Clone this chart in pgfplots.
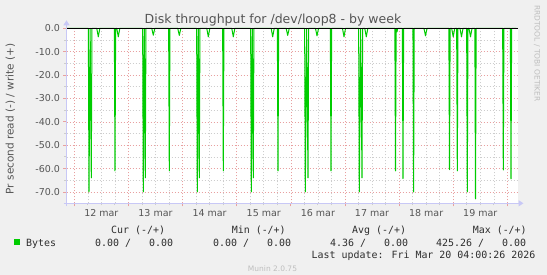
\documentclass[border=0pt]{standalone}
\usepackage{fontspec}
\setmainfont{DejaVu Sans}
\newfontfamily\monofont{DejaVu Sans Mono}
\usepackage{pgfplots}
\pgfplotsset{compat=1.18}
\usetikzlibrary{arrows.meta}
\definecolor{bgc}{RGB}{240,240,240}
\definecolor{mgreen}{RGB}{0,204,0}
\definecolor{mgridc}{RGB}{232,160,160}
\definecolor{gridc}{RGB}{205,205,205}
\definecolor{axc}{RGB}{200,200,246}
\definecolor{txt}{RGB}{85,85,85}
\definecolor{ltxt}{RGB}{45,45,45}
\definecolor{faint}{RGB}{190,190,190}

\begin{document}
\begin{tikzpicture}[x=1pt,y=1pt]
\fill[bgc] (0,0) rectangle (547,275);
\begin{axis}[name=ax, at={(66.5pt,71.7pt)}, anchor=south west,
  scale only axis, width=451.5pt, height=174.9pt,
  xmin=-0.144, xmax=8.197, ymin=-74.87, ymax=0,
  axis background/.style={fill=white},
  axis line style={draw=none},
  tick pos=left, tick align=outside,
  xtick={0,1,2,3,4,5,6,7,8}, minor x tick num=3,
  x tick label as interval,
  xticklabels={12 mar,13 mar,14 mar,15 mar,16 mar,17 mar,18 mar,19 mar},
  ytick={-70,-60,-50,-40,-30,-20,-10,0},
  minor y tick num=1,
  yticklabels={-70.0,-60.0,-50.0,-40.0,-30.0,-20.0,-10.0,0.0},
  grid=both,
  major grid style={mgridc, line width=0.6pt, dash pattern=on 1pt off 2pt},
  minor grid style={gridc, line width=0.6pt, dash pattern=on 1pt off 2pt},
  major tick length=3pt, minor tick length=2pt,
  major tick style={mgridc, line width=0.8pt},
  minor tick style={gridc, line width=0.8pt},
  tick label style={font=\fontsize{9.5}{11}\selectfont, text=txt},
  clip=false,
]
\addplot[mgreen, line width=1pt, line join=round] coordinates {
(-0.144,0)
(0.2596,0)(0.2716,-70)(0.2929,0)(0.3141,-64)(0.3261,0)
(0.4154,0)(0.4434,-3.6)(0.4714,0)
(0.7399,0)(0.7519,-61)(0.7639,0)
(0.7849,0)(0.8129,-3.6)(0.8409,0)
(1.2627,0)(1.2747,-70)(1.2932,0)(1.3117,-64)(1.3237,0)
(1.4314,0)(1.4594,-2.9)(1.4874,0)
(1.7430,0)(1.7550,-61)(1.7670,0)
(1.9118,0)(1.9398,-3)(1.9678,0)
(2.2603,0)(2.2723,-70)(2.2908,0)(2.3092,-64)(2.3212,0)
(2.4475,0)(2.4755,-3.6)(2.5035,0)
(2.7406,0)(2.7526,-61)(2.7646,0)
(2.9094,0)(2.9374,-3.6)(2.9654,0)
(3.2579,0)(3.2699,-70)(3.2884,0)(3.3068,-64)(3.3188,0)
(3.6372,0)(3.6652,-3.6)(3.6932,0)
(3.7512,0)(3.7632,-61)(3.7752,0)
(3.9144,0)(3.9424,-3)(3.9704,0)
(4.2555,0)(4.2675,-70)(4.2925,0)(4.3174,-64)(4.3294,0)
(4.4557,0)(4.4837,-3.2)(4.5117,0)
(4.7303,0)(4.7423,-61)(4.7543,0)
(4.9545,0)(4.9825,-3.6)(5.0105,0)
(5.2531,0)(5.2651,-70)(5.2901,0)(5.3150,-64)(5.3270,0)
(5.3664,0)(5.3944,-3.6)(5.4224,0)
(5.9219,0)(5.9339,-61)(5.9459,0)
(5.9500,0)(5.9616,-1.5)(5.9740,0)
(6.0604,0)(6.0724,-64.3)(6.0844,0)
(6.2563,0)(6.2683,-70)(6.2803,0)
(6.4601,0)(6.4881,-3.2)(6.5161,0)
(6.9195,0)(6.9315,-60.5)(6.9435,0)
(6.9718,0)(6.9998,-3.6)(7.0278,0)
(7.0636,0)(7.0756,-61)(7.0876,0)
(7.1251,0)(7.1531,-3.6)(7.1811,0)
(7.2483,0)(7.2603,-70)(7.2723,0)
(7.2914,0)(7.3194,-3.6)(7.3474,0)
(7.3998,0)(7.4118,-73)(7.4238,0)
(7.9134,0)(7.9254,-60.6)(7.9374,0)
(8.0556,0)(8.0676,-64.4)(8.0796,0)
(8.167,0)
};
\end{axis}
\draw[black, line width=0.9pt] (ax.north west) -- (ax.north east);
\draw[axc, line width=1.3pt, -{Triangle[length=5pt,width=6pt]}] ([xshift=-3pt]ax.south west) -- ++(460pt,0);
\draw[axc, line width=1.3pt, -{Triangle[length=5pt,width=6pt]}] ([yshift=-3pt]ax.south west) -- ++(0,186pt);
\node[anchor=base, font=\fontsize{12.5}{14}\selectfont, text=txt, inner sep=0pt] at (273,251.7) {Disk throughput for /dev/loop8 - by week};
\node[rotate=90, anchor=center, font=\fontsize{10.5}{12}\selectfont, text=txt, inner sep=0pt] at (10.3,156) {Pr second read (-) / write (+)};
\node[rotate=-90, anchor=center, font=\fontsize{7.5}{9}\selectfont, text=faint, inner sep=0pt] at (537,221.5) {RRDTOOL / TOBI OETIKER};
\begin{scope}[every node/.style={font=\monofont\fontsize{9.95}{12}\selectfont, text=ltxt, inner sep=0pt}]
\node[anchor=base west] at (111,41.6) {Cur (-/+)};
\node[anchor=base west] at (231.6,41.6) {Min (-/+)};
\node[anchor=base west] at (352,41.6) {Avg (-/+)};
\node[anchor=base west] at (472.6,41.6) {Max (-/+)};
\node[anchor=base west] at (26,28.7) {Bytes};
\node[anchor=base west] at (95,28.7) {0.00 /\ \ \ 0.00};
\node[anchor=base west] at (213,28.7) {0.00 /\ \ \ 0.00};
\node[anchor=base west] at (330,28.7) {4.36 /\ \ \ 0.00};
\node[anchor=base west] at (436,28.7) {425.26 /\ \ \ 0.00};
\node[anchor=base west] at (311.5,16.5) {Last update: Fri Mar 20 04:00:26 2026};
\end{scope}
\fill[mgreen] (14,30) rectangle (19.5,35.5);
\node[anchor=base, font=\fontsize{7.5}{9}\selectfont, text=faint, inner sep=0pt] at (272.5,3.6) {Munin 2.0.75};
\pgfresetboundingbox
\path[use as bounding box] (0,0) rectangle (547,275);
\end{tikzpicture}
\end{document}
